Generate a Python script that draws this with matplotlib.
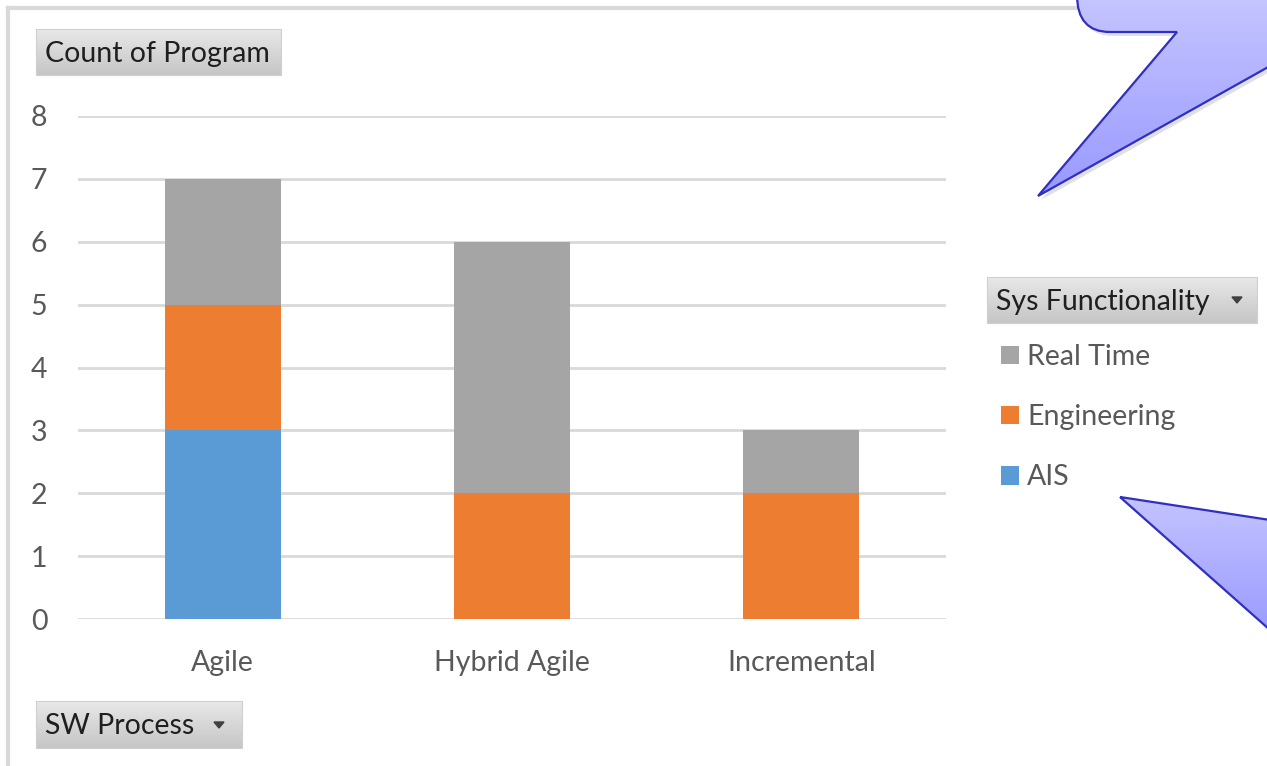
import numpy as np
import matplotlib.pyplot as plt
from matplotlib.path import Path
from matplotlib.patches import PathPatch, Rectangle, Polygon

# data
processes = ['Agile', 'Hybrid Agile', 'Incremental']
ais = [3, 0, 0]
engineering = [2, 2, 2]
real_time = [2, 4, 1]

series_names = ['AIS', 'Engineering', 'Real Time']
colors = ['#5B9BD5', '#ED7D31', '#A5A5A5']

plt.rcParams['font.family'] = ['Lato', 'DejaVu Sans']
FS = 20.5

W, H = 1267, 766
fig = plt.figure(figsize=(W / 100, H / 100), dpi=100)

# main chart, placed in pixel positions of the reference
ax = fig.add_axes([78 / W, 1 - 619 / H, (946 - 78) / W, (619 - 116) / H])
x = np.arange(len(processes))
bottom = np.zeros(len(processes))
bars = []
for name, vals, c in zip(series_names, [ais, engineering, real_time], colors):
    b = ax.bar(x, vals, width=0.4, bottom=bottom, color=c, label=name, zorder=3)
    bars.append(b)
    bottom += np.array(vals)

ax.set_xlim(-0.5, 2.5)
ax.set_ylim(0, 8)
ax.set_yticks(range(0, 9))
ax.set_xticks(x)
ax.set_xticklabels(processes)
ax.yaxis.grid(True, color='#D9D9D9', linewidth=2, zorder=0)
ax.tick_params(length=0, labelsize=FS, colors='#595959')
ax.tick_params(axis='y', pad=22)
ax.tick_params(axis='x', pad=22)
for s in ax.spines.values():
    s.set_visible(False)

leg = ax.legend(handles=bars[::-1], labels=series_names[::-1], loc='upper left',
                bbox_to_anchor=(1001 / W, 1 - 344 / H), bbox_transform=fig.transFigure,
                frameon=False, fontsize=FS, labelcolor='#595959',
                handlelength=0.62, handleheight=0.62, handletextpad=0.3,
                labelspacing=1.2, borderpad=0, borderaxespad=0)

# overlay in pixel coordinates for the pivot buttons, frame and callouts
ov = fig.add_axes([0, 0, 1, 1], zorder=5)
ov.set_xlim(0, W)
ov.set_ylim(H, 0)
ov.axis('off')
ov.patch.set_alpha(0)

# chart frame (left and top edges visible)
ov.plot([8, 8], [H + 5, 8], color='#D9D9D9', lw=3)
ov.plot([8, 1090], [8, 8], color='#D9D9D9', lw=3)


def gradient_box(x0, y0, x1, y1, c_top, c_bot, clip=None):
    t = np.linspace(0, 1, 100)[:, None, None]
    top = np.array(plt.matplotlib.colors.to_rgb(c_top))
    bot = np.array(plt.matplotlib.colors.to_rgb(c_bot))
    img = top * (1 - t) + bot * t
    img = np.repeat(img, 2, axis=1)
    im = ov.imshow(img, extent=[x0, x1, y1, y0], origin='upper', aspect='auto', zorder=2)
    if clip is not None:
        im.set_clip_path(clip)
    return im


def button(x0, y0, x1, y1, label, arrow=None):
    gradient_box(x0, y0, x1, y1, '#E8E8E8', '#C6C6C6')
    ov.add_patch(Rectangle((x0, y0), x1 - x0, y1 - y0, fill=False,
                           edgecolor='#CFCFCF', lw=0.8, zorder=3))
    ov.text(x0 + 9, (y0 + y1) / 2 + 2, label, fontsize=FS, color='#1F1F1F',
            va='center', ha='left', zorder=4)
    if arrow is not None:
        ax_, ay_ = arrow
        ov.add_patch(Polygon([[ax_ - 5, ay_ - 3], [ax_ + 5, ay_ - 3], [ax_, ay_ + 3]],
                             closed=True, color='#404040', zorder=4))


button(36, 29, 281, 75, 'Count of Program')
button(36, 701, 242, 748, 'SW Process', arrow=(219, 725))
button(987, 277, 1257, 323, 'Sys Functionality', arrow=(1237, 300))

# callouts
edge = '#3030C0'
top_verts = [(1077, -5), (1077, 32), (1110, 32), (1177, 32), (1038, 196),
             (1270, 66), (1270, -5), (1077, -5)]
top_codes = [Path.MOVETO, Path.CURVE3, Path.CURVE3, Path.LINETO, Path.LINETO,
             Path.LINETO, Path.LINETO, Path.CLOSEPOLY]
bot_verts = [(1120, 497), (1270, 520), (1270, 630), (1120, 497)]
bot_codes = [Path.MOVETO, Path.LINETO, Path.LINETO, Path.CLOSEPOLY]

for verts, codes, (y0, y1) in [(top_verts, top_codes, (0, 200)),
                               (bot_verts, bot_codes, (495, 640))]:
    shadow = PathPatch(Path([(vx + 3, vy + 4) for vx, vy in verts], codes),
                       facecolor='#000000', alpha=0.12, edgecolor='none', zorder=1)
    ov.add_patch(shadow)
    p = PathPatch(Path(verts, codes), facecolor='none', edgecolor=edge, lw=1.6, zorder=3)
    ov.add_patch(p)
    clip = PathPatch(Path(verts, codes), transform=ov.transData)
    gradient_box(1000, y0, W + 5, y1, '#C4C4FF', '#9898FF', clip=clip)

ov.set_xlim(0, W)
ov.set_ylim(H, 0)

fig.savefig('out.png', dpi=100)
